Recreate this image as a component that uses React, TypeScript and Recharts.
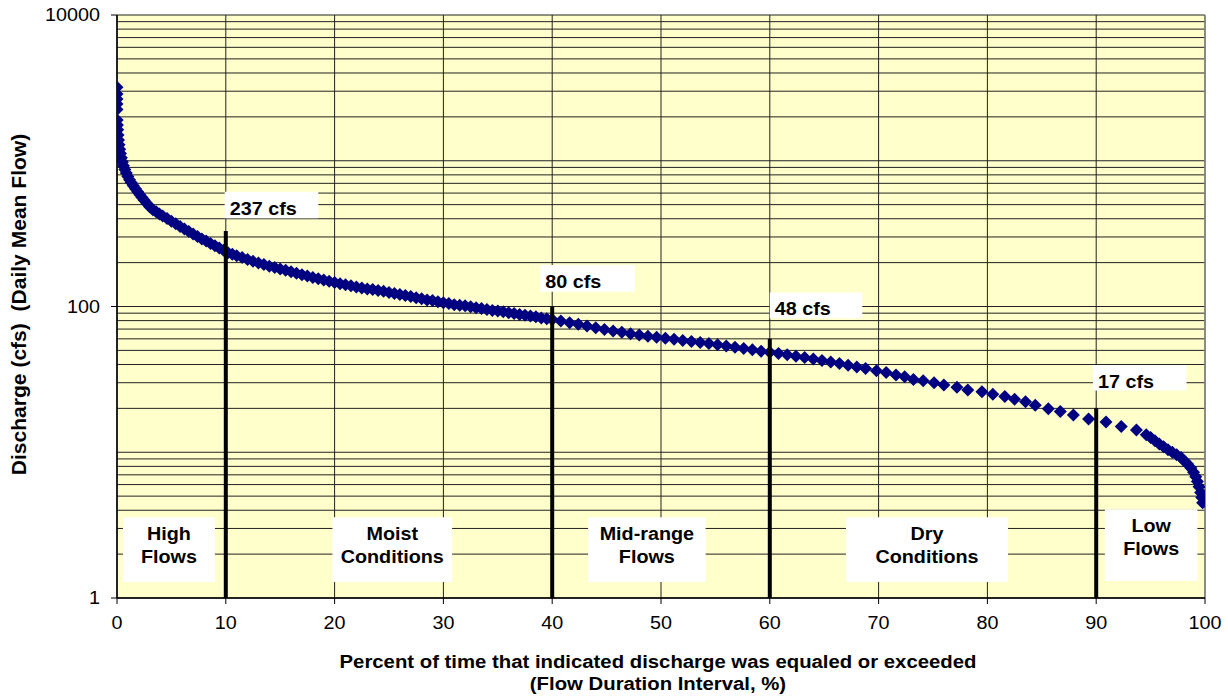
import React from 'react';
import {
  ComposedChart,
  Scatter,
  XAxis,
  YAxis,
  CartesianGrid,
  ReferenceLine,
  ReferenceArea,
} from 'recharts';

// ---- data ----
const exceedancePct = [
  0, 0, 0, 0, 0,
  0.02, 0.04, 0.07, 0.1, 0.14, 0.19, 0.25, 0.32, 0.4, 0.5, 0.6, 0.72, 0.85, 1.0, 1.15, 1.3, 1.5, 1.7, 1.9,
  2.1, 2.3, 2.5, 2.75, 3.0, 3.3, 3.6, 3.9, 4.2, 4.6, 5.0, 5.4, 5.8, 6.2, 6.6, 7.0, 7.4, 7.8, 8.2, 8.6,
  9.0, 9.4, 9.8, 10.2, 10.6, 11.0, 11.5, 12.0, 12.5, 13.0, 13.5, 14.0, 14.5, 15.0, 15.5, 16.0, 16.5,
  17.0, 17.5, 18.0, 18.5, 19.0, 19.5, 20.0, 20.5, 21.0, 21.5, 22.0, 22.5, 23.0, 23.5, 24.0, 24.5, 25.0,
  25.5, 26.0, 26.5, 27.0, 27.5, 28.0, 28.5, 29.0, 29.5, 30.0, 30.5, 31.0, 31.5, 32.0, 32.5, 33.0, 33.5,
  34.0, 34.5, 35.0, 35.5, 36.0, 36.5, 37.0, 37.5, 38.0, 38.5, 39.0, 39.5, 40.0,
  40.8, 41.6, 42.4, 43.2, 44.0, 44.8, 45.6, 46.4, 47.2, 48.0, 48.8, 49.6, 50.4, 51.2, 52.0, 52.8, 53.6,
  54.4, 55.2, 56.0, 56.8, 57.6, 58.4, 59.2, 60.0, 60.8, 61.6, 62.4, 63.2, 64.0, 64.8, 65.6, 66.4, 67.2,
  68.0, 68.8, 69.8, 70.7, 71.6, 72.4, 73.2, 74.1, 75.1, 76.0, 77.2, 78.2, 79.5, 80.5, 81.6, 82.5, 83.5,
  84.4, 85.6, 86.7, 87.9, 89.3, 90.9, 92.3, 93.7, 94.6, 95.0, 95.4, 95.8, 96.2, 96.6, 97.0, 97.4, 97.8,
  98.1, 98.4, 98.7, 98.95, 99.15, 99.3, 99.45, 99.6, 99.7, 99.78,
];

const dischargeCfs = [
  3190, 2870, 2650, 2450, 2250,
  1900, 1760, 1630, 1500, 1390, 1290, 1200, 1120, 1050, 980, 925, 870, 825, 780, 742, 710, 675, 642, 612,
  585, 560, 536, 508, 484, 462, 446, 432, 418, 401, 385, 369, 354, 340, 327, 314, 302, 291, 281, 271,
  261, 252, 243, 234, 228, 223, 217, 210, 204, 199, 194, 189, 185, 181, 177, 173, 169,
  165, 162, 158, 155, 152, 149, 146, 143, 141, 139, 136, 134, 132, 131, 129, 127, 125,
  123, 121, 119, 117, 115, 113, 111, 110, 108, 106, 105, 103, 102, 101, 99.5, 98, 97,
  95.5, 94, 93, 92, 90.5, 89.5, 88, 87, 86, 85, 83.5, 82.5, 81.5,
  79.5, 77.5, 75.5, 73.5, 71.5, 69.5, 68, 66.5, 65, 63.8, 62.6, 61.5, 60.5, 59.5, 58.5, 57.6, 56.7,
  55.7, 54.7, 53.6, 52.5, 51.5, 50.5, 49.4, 48.5, 47.6, 46.7, 45.6, 44.6, 43.6, 42.6, 41.6, 40.6, 39.5,
  38.5, 37.5, 36.3, 35.2, 33.9, 33.0, 31.6, 31.0, 30.0, 28.9, 27.9, 26.7, 26.0, 25.0, 24.1, 23.1, 22.2,
  21.0, 19.9, 19.0, 18.0, 16.9, 16.1, 15.0, 14.2, 13.2, 12.6, 12.0, 11.4, 10.9, 10.4, 10.0, 9.6, 9.2,
  8.7, 8.3, 7.8, 7.3, 6.8, 6.3, 5.8, 5.3, 4.9, 4.5,
];

const xTicks = [0, 10, 20, 30, 40, 50, 60, 70, 80, 90, 100];
const yTicks = [1, 100, 10000];
const yGridValues = [
  1, 2, 3, 4, 5, 6, 7, 8, 9,
  10, 20, 30, 40, 50, 60, 70, 80, 90,
  100, 200, 300, 400, 500, 600, 700, 800, 900,
  1000, 2000, 3000, 4000, 5000, 6000, 7000, 8000, 9000, 10000,
];

const boundaryPct = [10, 40, 60, 90];
const boundaryLineTopCfs = [330, 100, 60, 20];
const boundaryLabels = ['237 cfs', '80 cfs', '48 cfs', '17 cfs'];
const zoneNames = [
  ['High', 'Flows'],
  ['Moist', 'Conditions'],
  ['Mid-range', 'Flows'],
  ['Dry', 'Conditions'],
  ['Low', 'Flows'],
];

// ---- annotation placement (axis units) ----
const boundaryLabelBoxes = [
  { x1: 9.9, x2: 18.5, y1: 403, y2: 613 },
  { x1: 38.9, x2: 47.6, y1: 126, y2: 193 },
  { x1: 60.0, x2: 68.5, y1: 83, y2: 125 },
  { x1: 89.7, x2: 98.3, y1: 26.5, y2: 39.7 },
];
const zoneBoxes = [
  { x1: 0.55, x2: 9.0, y1: 1.29, y2: 3.58 },
  { x1: 19.8, x2: 30.8, y1: 1.29, y2: 3.58 },
  { x1: 43.3, x2: 54.1, y1: 1.29, y2: 3.58 },
  { x1: 67.0, x2: 81.9, y1: 1.29, y2: 3.58 },
  { x1: 90.8, x2: 99.3, y1: 1.31, y2: 4.06 },
];

const curveData = exceedancePct.map((x, i) => ({ x, y: dischargeCfs[i] }));

const FONT = '"Liberation Sans", Arial, Helvetica, sans-serif';
const SX = 1.13;

function SText(props: any) {
  const { x, y, anchor = 'middle', weight = 400, size = 17.5, rotate = 0, sx = SX, sy = 1, children } = props;
  return (
    <text
      transform={`translate(${x} ${y}) rotate(${rotate}) scale(${sx} ${sy})`}
      textAnchor={anchor}
      fontFamily={FONT}
      fontSize={size}
      fontWeight={weight}
      fill="#000"
    >
      {children}
    </text>
  );
}

const Diamond = (props: any) => {
  const { cx, cy } = props;
  if (cx == null || cy == null || !Number.isFinite(cx) || !Number.isFinite(cy)) return null;
  const r = 6.5;
  return (
    <polygon
      points={`${cx},${cy - r} ${cx + r},${cy} ${cx},${cy + r} ${cx - r},${cy}`}
      fill="#000080"
    />
  );
};

const XTick = (p: any) => (
  <SText x={p.x} y={p.y + 25}>
    {p.payload.value}
  </SText>
);

const YTick = (p: any) => (
  <SText x={p.x - 11} y={p.y + 6} anchor="end">
    {p.payload.value}
  </SText>
);

const hGridGen = (args: any) => {
  const axis = args && args.yAxis;
  const s = axis && axis.scale;
  if (!s) return [];
  const f = typeof s === 'function' ? s : (v: number) => (s.map ? s.map(v) : NaN);
  return yGridValues.map((v) => f(v)).filter((n: number) => Number.isFinite(n));
};

const leftLabel = (text: string) => (p: any) => {
  const vb = (p && p.viewBox) || {};
  return (
    <SText x={(vb.x || 0) + 5} y={(vb.y || 0) + 23} anchor="start" weight={700}>
      {text}
    </SText>
  );
};

const centerLabel = (lines: string[]) => (p: any) => {
  const vb = (p && p.viewBox) || {};
  const cx = (vb.x || 0) + (vb.width || 0) / 2;
  return (
    <g>
      <SText x={cx} y={(vb.y || 0) + 23} weight={700}>
        {lines[0]}
      </SText>
      <SText x={cx} y={(vb.y || 0) + 46} weight={700}>
        {lines[1]}
      </SText>
    </g>
  );
};

const XTitle = (p: any) => {
  const vb = (p && p.viewBox) || {};
  const cx = (vb.x || 0) + (vb.width || 0) / 2 - 3;
  return (
    <g>
      <SText x={cx} y={(vb.y || 0) + 70} weight={700} size={18}>
        Percent of time that indicated discharge was equaled or exceeded
      </SText>
      <SText x={cx} y={(vb.y || 0) + 92} weight={700} size={18}>
        (Flow Duration Interval, %)
      </SText>
    </g>
  );
};

const YTitle = (p: any) => {
  const vb = (p && p.viewBox) || {};
  const cy = (vb.y || 0) + (vb.height || 0) / 2 - 2;
  return (
    <SText x={(vb.x || 0) + 26} y={cy} weight={700} size={18} rotate={-90} sx={1.17} sy={1.1}>
      {'Discharge (cfs)\u00A0\u00A0(Daily Mean Flow)'}
    </SText>
  );
};

export default function App() {
  return (
    <div style={{ position: 'absolute', left: 0, top: 0, background: '#fff' }}>
      <ComposedChart
        width={1228}
        height={698}
        margin={{ top: 15, right: 23, bottom: 0, left: 0 }}
      >
        <CartesianGrid
          fill="#FFFFCC"
          stroke="#222"
          strokeWidth={1}
          horizontalCoordinatesGenerator={hGridGen}
        />
        {zoneBoxes.map((b, i) => (
          <ReferenceArea
            key={`zone-${i}`}
            x1={b.x1}
            x2={b.x2}
            y1={b.y1}
            y2={b.y2}
            fill="#FFFFFF"
            fillOpacity={1}
            stroke="none"
            ifOverflow="visible"
            label={centerLabel(zoneNames[i])}
          />
        ))}
        {boundaryLabelBoxes.map((b, i) => (
          <ReferenceArea
            key={`blab-${i}`}
            x1={b.x1}
            x2={b.x2}
            y1={b.y1}
            y2={b.y2}
            fill="#FFFFFF"
            fillOpacity={1}
            stroke="none"
            ifOverflow="visible"
            label={leftLabel(boundaryLabels[i])}
          />
        ))}
        <Scatter
          data={curveData}
          dataKey="y"
          shape={Diamond}
          isAnimationActive={false}
        />
        {boundaryPct.map((x, i) => (
          <ReferenceLine
            key={`bl-${i}`}
            segment={[
              { x, y: 1 },
              { x, y: boundaryLineTopCfs[i] },
            ]}
            stroke="#000"
            strokeWidth={4}
            ifOverflow="visible"
            zIndex={700}
          />
        ))}
        <ReferenceLine x={100} stroke="#8a8a8a" strokeWidth={1.5} />
        <XAxis
          type="number"
          dataKey="x"
          domain={[0, 100]}
          ticks={xTicks}
          interval={0}
          allowDataOverflow
          height={100}
          tickSize={6}
          tickMargin={0}
          axisLine={{ stroke: '#000', strokeWidth: 1.5 }}
          tickLine={{ stroke: '#000' }}
          tick={XTick}
          label={{ content: XTitle }}
        />
        <YAxis
          type="number"
          dataKey="y"
          scale="log"
          domain={[1, 10000]}
          ticks={yTicks}
          interval={0}
          allowDataOverflow
          width={117}
          tickSize={6}
          tickMargin={0}
          axisLine={{ stroke: '#000', strokeWidth: 1.5 }}
          tickLine={{ stroke: '#000' }}
          tick={YTick}
          label={{ content: YTitle }}
        />
      </ComposedChart>
    </div>
  );
}
